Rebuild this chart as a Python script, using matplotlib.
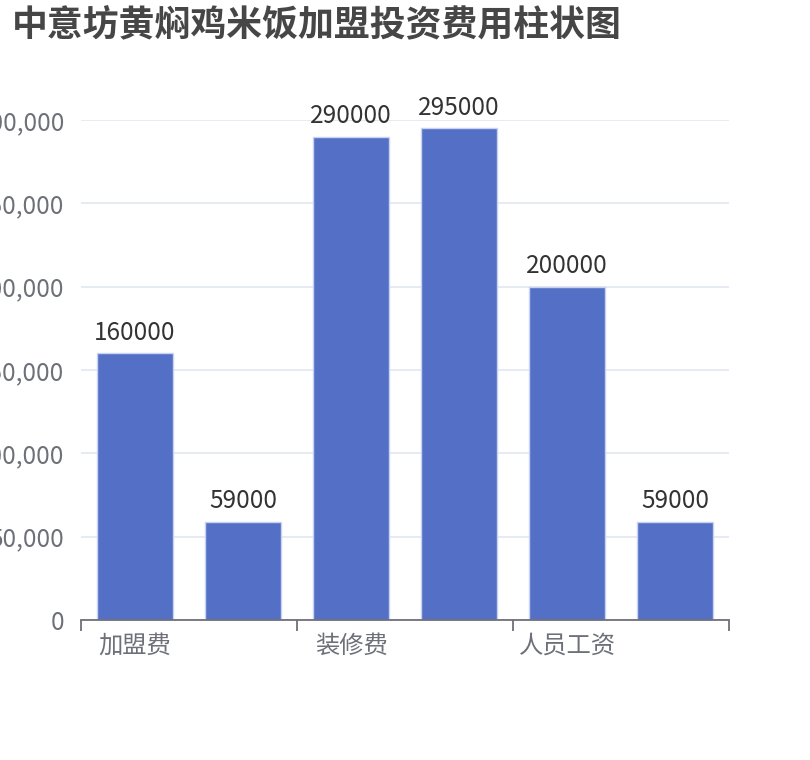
import matplotlib.pyplot as plt
from matplotlib.ticker import FuncFormatter

plt.rcParams['font.family'] = ['Noto Sans CJK SC', 'DejaVu Sans']

# 数据
categories = ['加盟费', '', '装修费', '', '人员工资', '']
values = [160000, 59000, 290000, 295000, 200000, 59000]
y_ticks = [0, 50000, 100000, 150000, 200000, 250000, 300000]

fig = plt.figure(figsize=(8.1, 7.6), dpi=100)
ax = fig.add_axes([81 / 810, 140 / 760, 648 / 810, 500 / 760])

x = list(range(len(categories)))
bars = ax.bar(x, values, width=0.7, color='#5470c6', edgecolor='#c9d2f0',
              linewidth=1, zorder=3)

# 柱子上的数值
for b, v in zip(bars, values):
    ax.text(b.get_x() + b.get_width() / 2, v + 4500, str(v),
            ha='center', va='bottom', fontsize=17.5, color='#333333')

ax.set_xlim(-0.5, len(categories) - 0.5)
ax.set_ylim(0, 300000)
ax.set_yticks(y_ticks)
ax.yaxis.set_major_formatter(FuncFormatter(lambda v, p: '{:,}'.format(int(v))))
ax.tick_params(axis='y', length=0, pad=12, labelsize=17.5, labelcolor='#6e7079')
ax.grid(axis='y', color='#e0e6f1', linewidth=1.2, zorder=0)

# x 轴: 刻度在两组之间, 标签在柱子下面
ax.set_xticks([-0.5, 1.5, 3.5, 5.5])
ax.set_xticklabels([])
ax.tick_params(axis='x', which='major', length=8, width=1.3, color='#6e7079')
ax.set_xticks(x[::2], minor=True)
ax.set_xticklabels(categories[::2], minor=True)
ax.tick_params(axis='x', which='minor', length=0, pad=9, labelsize=17.5,
               labelcolor='#6e7079')

for s in ['left', 'right', 'top']:
    ax.spines[s].set_visible(False)
ax.spines['bottom'].set_color('#6e7079')
ax.spines['bottom'].set_linewidth(1.3)
ax.spines['bottom'].set_zorder(4)

fig.text(12 / 810, 1 - 25 / 760, '中意坊黄焖鸡米饭加盟投资费用柱状图',
         fontsize=25.8, fontweight='bold', color='#464646', va='center', ha='left')

plt.savefig('out.png')
